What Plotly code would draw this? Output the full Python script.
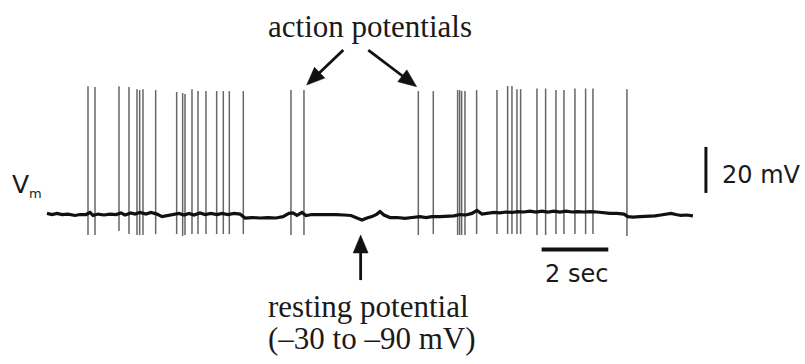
import math
import plotly.graph_objects as go

# ---- membrane potential recording (time in s, voltage in mV) ----
# slow baseline of the trace between spikes
baseline_t = [0.00, 0.15, 0.30, 0.45, 0.63, 0.84, 0.99, 1.17, 1.29, 1.38, 1.53, 1.71,
              1.89, 2.07, 2.22, 2.34, 2.52, 2.64, 2.79, 2.97, 3.12, 3.30, 3.45, 3.63,
              3.81, 3.96, 4.11, 4.26, 4.41, 4.59, 4.74, 4.92, 5.10, 5.25, 5.43, 5.61,
              5.79, 5.94, 6.15, 6.39, 6.63, 6.87, 7.08, 7.26, 7.38, 7.50, 7.65, 7.77,
              7.95, 8.19, 8.43, 8.67, 8.91, 9.12, 9.30, 9.45, 9.60, 9.75, 9.90, 9.99,
              10.11, 10.29, 10.50, 10.74, 10.95, 11.19, 11.37, 11.55, 11.79, 12.00, 12.21, 12.39,
              12.57, 12.75, 12.90, 13.05, 13.23, 13.41, 13.59, 13.77, 13.95, 14.13, 14.31, 14.49,
              14.67, 14.85, 15.03, 15.21, 15.39, 15.57, 15.75, 15.93, 16.11, 16.29, 16.50, 16.68,
              16.89, 17.10, 17.31, 17.43, 17.58, 17.79, 18.03, 18.24, 18.42, 18.57, 18.72, 18.87,
              19.02, 19.20, 19.38]
baseline_v = [-59.3, -59.8, -59.3, -59.8, -59.6, -60.2, -59.8, -59.8, -58.9, -60.2, -59.6, -60.0,
              -59.6, -59.8, -59.1, -60.0, -59.1, -59.6, -58.9, -59.6, -58.9, -59.6, -60.7, -60.2,
              -60.0, -59.3, -60.0, -59.3, -60.0, -59.1, -59.8, -59.3, -59.8, -59.3, -59.8, -59.3,
              -59.6, -61.3, -61.1, -61.3, -61.1, -61.3, -60.7, -59.3, -59.1, -60.2, -58.9, -60.2,
              -59.8, -59.8, -59.6, -59.8, -60.0, -60.2, -61.3, -62.2, -61.3, -60.7, -59.6, -58.5,
              -60.0, -61.1, -61.1, -61.5, -61.1, -60.7, -61.1, -60.7, -60.7, -60.7, -60.4, -59.8,
              -60.0, -59.3, -58.0, -59.6, -59.3, -58.9, -59.1, -58.7, -58.9, -58.5, -58.7, -58.3,
              -58.7, -58.3, -58.7, -58.3, -58.7, -58.3, -58.7, -58.5, -58.7, -58.5, -58.7, -59.1,
              -59.3, -59.3, -59.6, -60.7, -60.9, -60.7, -60.7, -60.4, -60.0, -59.6, -59.3, -59.8,
              -60.2, -60.0, -60.4]

# action potentials: time, peak and undershoot of each spike
spike_t = [1.23, 1.44, 2.16, 2.46, 2.70, 2.78, 2.88, 3.26, 3.89, 4.07,
           4.14, 4.35, 4.53, 4.77, 5.09, 5.29, 5.47, 5.89, 7.32, 7.71,
           11.14, 11.59, 12.32, 12.38, 12.44, 12.54, 12.89, 13.50, 13.82, 13.95,
           14.10, 14.21, 14.70, 14.96, 15.27, 15.51, 15.84, 16.16, 16.38, 17.40]
spike_peak = [-4.0, -4.3, -4.0, -4.3, -5.3, -5.7, -5.3, -5.7, -6.5, -7.0,
              -7.4, -5.3, -6.1, -6.1, -6.1, -6.1, -6.1, -6.1, -5.7, -5.7,
              -6.1, -6.1, -5.7, -5.7, -6.1, -6.1, -5.7, -5.7, -3.9, -3.9,
              -5.3, -5.3, -5.0, -5.0, -5.7, -5.7, -5.0, -5.0, -5.0, -5.3]
spike_trough = [-68.7, -68.7, -67.0, -68.3, -68.7, -68.7, -68.7, -68.3, -68.3, -69.1,
                -68.7, -68.3, -68.3, -68.3, -68.3, -68.3, -68.3, -68.3, -68.7, -68.7,
                -68.7, -68.3, -68.7, -68.7, -68.7, -68.7, -68.3, -68.3, -68.3, -68.3,
                -68.3, -68.3, -68.7, -68.7, -68.3, -68.3, -68.3, -68.3, -68.3, -69.1]

# calibration bars
bar_time = [14.84, 16.84]      # 2 sec
bar_volt = [-50.4, -30.4]      # 20 mV
bar_time_level = -75.0
bar_volt_pos = 19.77

# ---- figure geometry ----
W, H = 805, 364
T_ORIGIN_PX, PX_PER_S = 47, 33.33
V_ORIGIN_PX, V_ORIGIN, PX_PER_MV = 215, -60.0, 2.3

x_range = [(0 - T_ORIGIN_PX) / PX_PER_S, (W - T_ORIGIN_PX) / PX_PER_S]
y_range = [V_ORIGIN - (H - V_ORIGIN_PX) / PX_PER_MV, V_ORIGIN + V_ORIGIN_PX / PX_PER_MV]


def to_px(t, v):
    return T_ORIGIN_PX + t * PX_PER_S, V_ORIGIN_PX - (v - V_ORIGIN) * PX_PER_MV


def paper(xp, yp):
    return xp / W, 1 - yp / H


# spikes as vertical strokes
sx, sy = [], []
for t, pk, tr in zip(spike_t, spike_peak, spike_trough):
    sx += [t, t, None]
    sy += [tr, pk, None]

fig = go.Figure()
fig.add_trace(go.Scatter(x=sx, y=sy, mode="lines",
                         line=dict(color="#666666", width=1.5),
                         hoverinfo="skip", showlegend=False))
fig.add_trace(go.Scatter(x=baseline_t, y=baseline_v, mode="lines",
                         line=dict(color="#111111", width=3.2),
                         hoverinfo="skip", showlegend=False))
fig.add_trace(go.Scatter(x=bar_time, y=[bar_time_level] * 2, mode="lines",
                         line=dict(color="#111111", width=4),
                         hoverinfo="skip", showlegend=False))
fig.add_trace(go.Scatter(x=[bar_volt_pos] * 2, y=bar_volt, mode="lines",
                         line=dict(color="#111111", width=3),
                         hoverinfo="skip", showlegend=False))

serif = dict(family="Liberation Serif, Times New Roman, serif", size=31, color="#1a1a1a")
sans = dict(family="DejaVu Sans, Arial, sans-serif", size=24, color="#1a1a1a")

annotations = []


def label(text, xp, yp, font, xanchor="center"):
    px_, py_ = paper(xp, yp)
    annotations.append(dict(text=text, x=px_, y=py_, xref="paper", yref="paper",
                            xanchor=xanchor, yanchor="middle", showarrow=False,
                            font=font))


label("action potentials", 370, 27, serif)
label("resting potential", 368, 306, serif)
label("(–30 to –90 mV)", 372, 338, serif)
label("20 mV", 720, 175, sans, xanchor="left")
label("2 sec", 576, 274, sans)
label("V<sub><span style='font-size:13px'>m</span></sub>", 10, 185,
      dict(sans, size=25), xanchor="left")

shapes = []


def arrow(tip, tail, head_len=18, head_w=15, width=2.8, color="#111111"):
    """Straight arrow with a filled triangular head; tip/tail given as (t, mV)."""
    tx, ty = to_px(*tip)
    bx, by = to_px(*tail)
    dx, dy = tx - bx, ty - by
    n = math.hypot(dx, dy)
    ux, uy = dx / n, dy / n
    # base of the head
    hx, hy = tx - ux * head_len, ty - uy * head_len
    px_, py_ = -uy, ux
    p1 = paper(hx + px_ * head_w / 2, hy + py_ * head_w / 2)
    p2 = paper(hx - px_ * head_w / 2, hy - py_ * head_w / 2)
    pt = paper(tx, ty)
    s0 = paper(bx, by)
    s1 = paper(hx + ux * 2, hy + uy * 2)
    shapes.append(dict(type="line", xref="paper", yref="paper",
                       x0=s0[0], y0=s0[1], x1=s1[0], y1=s1[1],
                       line=dict(color=color, width=width)))
    shapes.append(dict(type="path", xref="paper", yref="paper",
                       path=f"M{pt[0]},{pt[1]} L{p1[0]},{p1[1]} L{p2[0]},{p2[1]} Z",
                       fillcolor=color, line=dict(color=color, width=0.5)))


arrow((7.79, -3.5), (8.89, 11.7))
arrow((11.09, -4.2), (9.64, 11.7))
arrow((9.41, -68.7), (9.41, -88.3))

fig.update_layout(
    width=W, height=H,
    margin=dict(l=0, r=0, t=0, b=0),
    paper_bgcolor="white", plot_bgcolor="white",
    xaxis=dict(range=x_range, visible=False, fixedrange=True),
    yaxis=dict(range=y_range, visible=False, fixedrange=True),
    annotations=annotations,
    shapes=shapes,
    showlegend=False,
)

fig.write_html("out.html")
